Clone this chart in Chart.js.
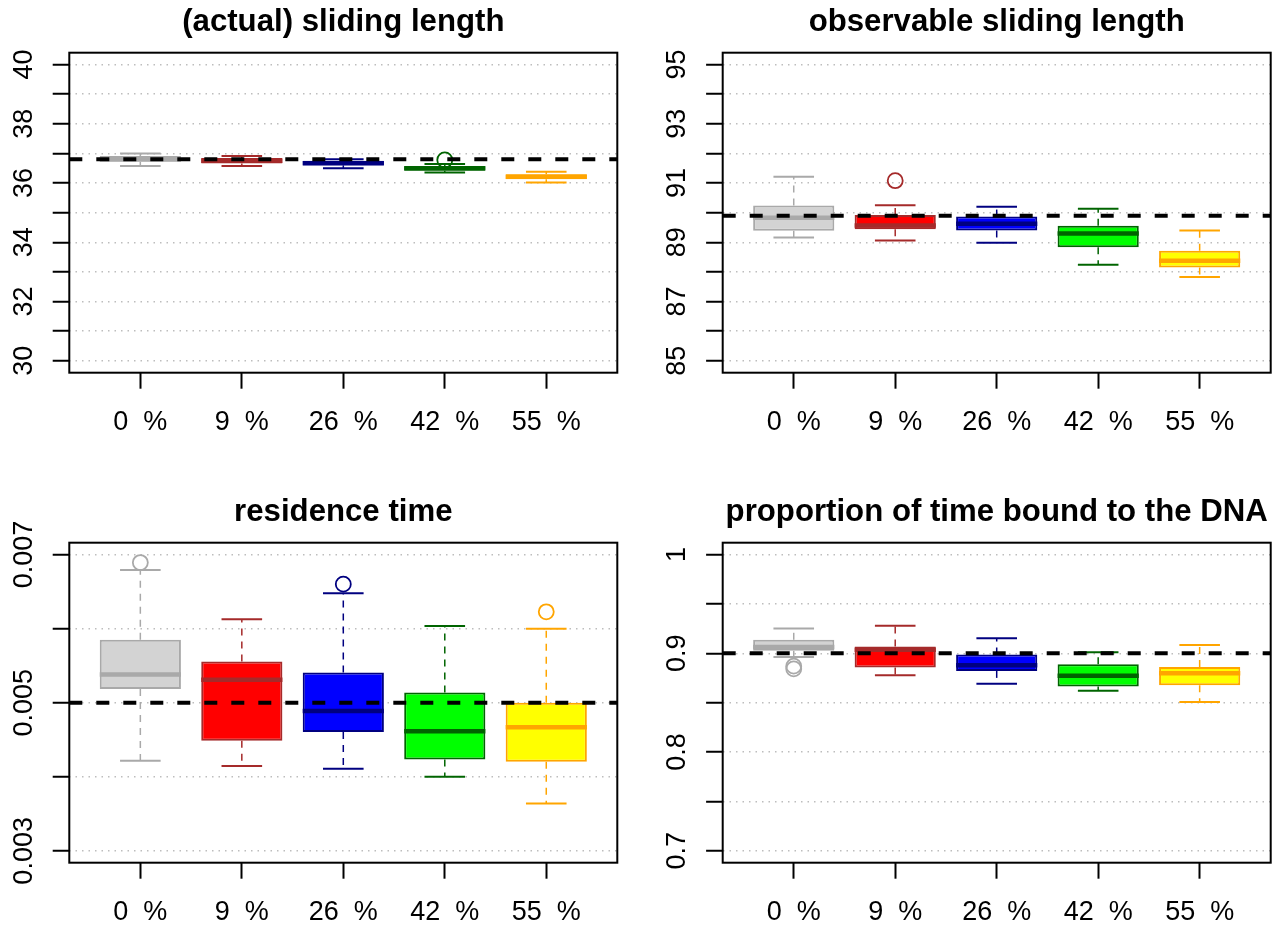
<!DOCTYPE html>
<html>
<head>
<meta charset="utf-8">
<script src="https://cdn.jsdelivr.net/npm/chart.js@4"></script>
<style>
  body { margin: 0; background: #fff; }
  #wrap { position: relative; width: 1287px; height: 928px; background: #fff; }
  canvas { position: absolute; }
</style>
</head>
<body>
<div id="wrap">
  <canvas id="actual" width="644" height="464" style="left:0;top:0"></canvas>
  <canvas id="observed" width="643" height="464" style="left:644px;top:0"></canvas>
  <canvas id="residence" width="644" height="464" style="left:0;top:464px"></canvas>
  <canvas id="bound" width="643" height="464" style="left:644px;top:464px"></canvas>
</div>
<script>
const groups = ['0  %', '9  %', '26  %', '42  %', '55  %'];
const groupX = [1, 2, 3, 4, 5];
const fillColors = ['#D3D3D3', '#FF0000', '#0000FF', '#00FF00', '#FFFF00'];
const lineColors = ['#A9A9A9', '#A52A2A', '#000080', '#006400', '#FFA500'];

// (actual) sliding length
const actualLow = [36.58, 36.58, 36.50, 36.36, 36.02];
const actualQ1 = [36.72, 36.66, 36.60, 36.42, 36.13];
const actualMedian = [36.80, 36.75, 36.67, 36.50, 36.21];
const actualQ3 = [36.91, 36.85, 36.75, 36.57, 36.30];
const actualHigh = [37.00, 36.91, 36.80, 36.64, 36.38];
const actualOutX = [4];
const actualOutY = [36.78];
const actualRef = 36.8;
const actualTicks = [30, 31, 32, 33, 34, 35, 36, 37, 38, 39, 40];
const actualLabels = [30, 32, 34, 36, 38, 40];

// observable sliding length
const observedLow = [89.16, 89.06, 88.99, 88.24, 87.83];
const observedQ1 = [89.39, 89.44, 89.40, 88.83, 88.15];
const observedMedian = [89.83, 89.57, 89.63, 89.30, 88.38];
const observedQ3 = [90.24, 89.92, 89.87, 89.56, 88.72];
const observedHigh = [91.21, 90.25, 90.20, 90.13, 89.40];
const observedOutX = [2];
const observedOutY = [91.08];
const observedRef = 89.9;
const observedTicks = [85, 86, 87, 88, 89, 90, 91, 92, 93, 94, 95];
const observedLabels = [85, 87, 89, 91, 93, 95];

// residence time
const residenceLow = [0.004218, 0.004146, 0.004110, 0.004002, 0.003638];
const residenceQ1 = [0.005184, 0.004488, 0.004604, 0.004232, 0.004204];
const residenceMedian = [0.005382, 0.005310, 0.004888, 0.004613, 0.004667];
const residenceQ3 = [0.005849, 0.005557, 0.005409, 0.005139, 0.005000];
const residenceHigh = [0.006793, 0.006128, 0.006479, 0.006034, 0.006000];
const residenceOutX = [1, 3, 5];
const residenceOutY = [0.006892, 0.006600, 0.006227];
const residenceRef = 0.005;
const residenceTicks = [0.003, 0.004, 0.005, 0.006, 0.007];
const residenceLabels = [0.003, 0.005, 0.007];

// proportion of time bound to the DNA
const boundLow = [0.8963, 0.8777, 0.8693, 0.8620, 0.8508];
const boundQ1 = [0.9025, 0.8856, 0.8822, 0.8664, 0.8676];
const boundMedian = [0.9064, 0.9037, 0.8880, 0.8774, 0.8799];
const boundQ3 = [0.9137, 0.9070, 0.8988, 0.8890, 0.8861];
const boundHigh = [0.9252, 0.9279, 0.9153, 0.9012, 0.9083];
const boundOutX = [1, 1];
const boundOutY = [0.8870, 0.8842];
const boundRef = 0.9;
const boundTicks = [0.7, 0.75, 0.8, 0.85, 0.9, 0.95, 1];
const boundLabels = [0.7, 0.8, 0.9, 1];

Chart.defaults.font.family = '"Liberation Sans", Arial, sans-serif';

function boxPlugin(cfg) {
  return {
    id: 'boxes',
    afterDatasetsDraw(chart) {
      const ctx = chart.ctx, xs = chart.scales.x, ys = chart.scales.y;
      const seg = (x1, y1, x2, y2) => {
        ctx.beginPath(); ctx.moveTo(x1, y1); ctx.lineTo(x2, y2); ctx.stroke();
      };
      groupX.forEach((g, i) => {
        const cx = xs.getPixelForValue(g);
        const capL = xs.getPixelForValue(g - 0.2), capR = xs.getPixelForValue(g + 0.2);
        const lo = ys.getPixelForValue(cfg.low[i]), hi = ys.getPixelForValue(cfg.high[i]);
        const q1 = ys.getPixelForValue(cfg.q1[i]), q3 = ys.getPixelForValue(cfg.q3[i]);
        const med = ys.getPixelForValue(cfg.median[i]);
        ctx.save();
        ctx.strokeStyle = lineColors[i];
        // whiskers
        ctx.lineWidth = 1.5;
        ctx.setLineDash([7, 6]);
        seg(cx, q3, cx, hi);
        seg(cx, q1, cx, lo);
        ctx.setLineDash([]);
        ctx.lineWidth = 2;
        seg(capL, hi, capR, hi);
        seg(capL, lo, capR, lo);
        // median
        ctx.lineWidth = 4.5;
        seg(xs.getPixelForValue(g - 0.4), med, xs.getPixelForValue(g + 0.4), med);
        ctx.restore();
      });
    },
    afterDraw(chart) {
      const ctx = chart.ctx, ys = chart.scales.y;
      const a = chart.chartArea;
      ctx.save();
      // reference line
      const ry = ys.getPixelForValue(cfg.ref);
      ctx.strokeStyle = '#000';
      ctx.lineWidth = 4;
      ctx.setLineDash([13, 14]);
      ctx.beginPath(); ctx.moveTo(a.left, ry); ctx.lineTo(a.right, ry); ctx.stroke();
      ctx.setLineDash([]);
      // frame
      ctx.lineWidth = 2;
      ctx.strokeRect(a.left, a.top, a.right - a.left, a.bottom - a.top);
      // y tick labels, rotated like R
      ctx.fillStyle = '#000';
      ctx.font = '27px "Liberation Sans", Arial, sans-serif';
      ctx.textAlign = 'center';
      ctx.textBaseline = 'alphabetic';
      cfg.labels.forEach(v => {
        ctx.save();
        ctx.translate(a.left - 37.6, ys.getPixelForValue(v));
        ctx.rotate(-Math.PI / 2);
        ctx.fillText(String(v), 0, 0);
        ctx.restore();
      });
      // title
      ctx.font = 'bold 31.2px "Liberation Sans", Arial, sans-serif';
      ctx.fillText(cfg.title, (a.left + a.right) / 2, a.top - 22);
      ctx.restore();
    }
  };
}

function makeChart(id, cfg) {
  const el = document.getElementById(id);
  const W = el.width, H = el.height;
  const area = cfg.area;
  const span = cfg.ticks[cfg.ticks.length - 1] - cfg.ticks[0];
  return new Chart(el, {
    type: 'bar',
    data: {
      datasets: [{
        type: 'scatter',
        data: cfg.outX.map((x, i) => ({ x: x, y: cfg.outY[i] })),
        pointRadius: 7.5,
        pointBorderWidth: 1.8,
        pointBackgroundColor: 'rgba(0,0,0,0)',
        pointBorderColor: cfg.outX.map(x => lineColors[x - 1]),
        order: 0
      }, {
        type: 'bar',
        data: groupX.map((x, i) => ({ x: x, y: [cfg.q1[i], cfg.q3[i]] })),
        backgroundColor: fillColors,
        borderColor: lineColors,
        borderWidth: 2,
        borderSkipped: false,
        barPercentage: 0.8,
        categoryPercentage: 1,
        order: 1
      }]
    },
    options: {
      responsive: false,
      animation: false,
      events: [],
      layout: { padding: { left: 0, top: area.top, right: W - area.right, bottom: 0 } },
      plugins: { legend: { display: false }, tooltip: { enabled: false }, title: { display: false } },
      scales: {
        x: {
          type: 'linear',
          min: 0.3,
          max: 5.7,
          offset: false,
          bounds: 'data',
          afterBuildTicks: s => { s.ticks = groupX.map(v => ({ value: v })); },
          afterFit: s => { s.height = H - area.bottom; },
          ticks: {
            callback: v => groups[v - 1],
            color: '#000',
            font: { size: 27 },
            padding: 17.4,
            maxRotation: 0,
            autoSkip: false
          },
          grid: { offset: false, drawOnChartArea: false, drawTicks: true, tickLength: 16, tickWidth: 2, tickColor: '#000' },
          border: { display: false }
        },
        y: {
          type: 'linear',
          min: cfg.ticks[0] - 0.04 * span,
          max: cfg.ticks[cfg.ticks.length - 1] + 0.04 * span,
          beginAtZero: false,
          bounds: 'data',
          z: 1,
          afterBuildTicks: s => { s.ticks = cfg.ticks.map(v => ({ value: v })); },
          afterFit: s => { s.width = area.left; },
          ticks: { display: false },
          grid: { color: '#bdbdbd', lineWidth: 1.5, drawTicks: true, tickLength: 16.6, tickWidth: 2, tickColor: '#000' },
          border: { display: false, dash: [1.5, 5] }
        }
      }
    },
    plugins: [boxPlugin(cfg)]
  });
}

makeChart('actual', {
  title: '(actual) sliding length',
  area: { left: 69.3, right: 617.3, top: 52.7, bottom: 372.7 },
  low: actualLow, q1: actualQ1, median: actualMedian, q3: actualQ3, high: actualHigh,
  outX: actualOutX, outY: actualOutY, ref: actualRef, ticks: actualTicks, labels: actualLabels
});
makeChart('observed', {
  title: 'observable sliding length',
  area: { left: 78.7, right: 626.7, top: 52.7, bottom: 372.7 },
  low: observedLow, q1: observedQ1, median: observedMedian, q3: observedQ3, high: observedHigh,
  outX: observedOutX, outY: observedOutY, ref: observedRef, ticks: observedTicks, labels: observedLabels
});
makeChart('residence', {
  title: 'residence time',
  area: { left: 69.3, right: 617.3, top: 78.7, bottom: 398.7 },
  low: residenceLow, q1: residenceQ1, median: residenceMedian, q3: residenceQ3, high: residenceHigh,
  outX: residenceOutX, outY: residenceOutY, ref: residenceRef, ticks: residenceTicks, labels: residenceLabels
});
makeChart('bound', {
  title: 'proportion of time bound to the DNA',
  area: { left: 78.7, right: 626.7, top: 78.7, bottom: 398.7 },
  low: boundLow, q1: boundQ1, median: boundMedian, q3: boundQ3, high: boundHigh,
  outX: boundOutX, outY: boundOutY, ref: boundRef, ticks: boundTicks, labels: boundLabels
});
</script>
</body>
</html>
